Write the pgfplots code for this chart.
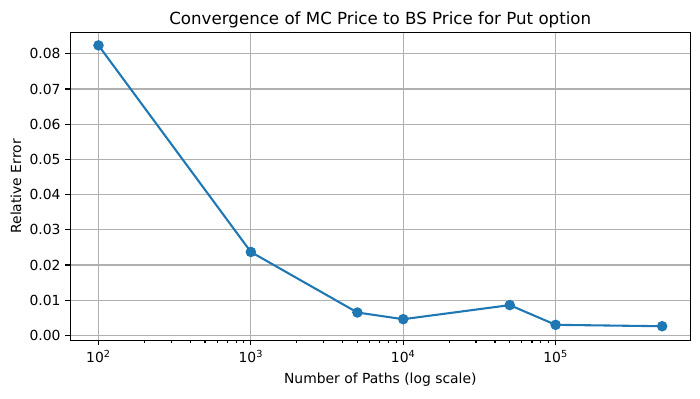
\documentclass[border=0pt]{standalone}
\usepackage{pgfplots}
\pgfplotsset{compat=1.18}
\usepackage{fontspec}
\setmainfont{DejaVu Sans}
\definecolor{mplblue}{HTML}{1F77B4}
\definecolor{gridgray}{HTML}{B0B0B0}
\begin{document}
\begin{tikzpicture}
\path[use as bounding box] (-50.6pt,-41.5pt) rectangle (453.4pt,245.1pt);
\begin{axis}[
  at={(0,0)}, anchor=south west,
  scale only axis,
  width=446.4pt, height=221.8pt,
  xmode=log,
  xmin=65.3, xmax=765000,
  ymin=-0.00143, ymax=0.0861,
  xtick={100,1000,10000,100000},
  xticklabels={10\textsuperscript{2},10\textsuperscript{3},10\textsuperscript{4},10\textsuperscript{5}},
  ytick={0,0.01,0.02,0.03,0.04,0.05,0.06,0.07,0.08},
  yticklabel style={/pgf/number format/.cd, fixed, fixed zerofill, precision=2, assume math mode=true},
  scaled y ticks=false,
  tick label style={font=\fontsize{10}{12}\selectfont},
  grid=major,
  major grid style={draw=gridgray, line width=0.8pt},
  axis line style={line width=0.8pt},
  tick style={line width=0.8pt, black},
  tick align=outside,
  major tick length=3.5pt,
  minor tick length=2pt,
  xtick pos=bottom, ytick pos=left,
  title={Convergence of MC Price to BS Price for Put option},
  title style={font=\fontsize{12}{14}\selectfont, yshift=-6.5pt},
  xlabel={Number of Paths (log scale)},
  ylabel={Relative Error},
  label style={font=\fontsize{10}{12}\selectfont},
  xlabel style={yshift=-0.5pt},
  ylabel style={yshift=-1pt},
]
\addplot[color=mplblue, line width=1.5pt, mark=*, mark size=3pt, mark options={solid, fill=mplblue, draw=none}] coordinates {
(100,0.0824)
(1000,0.0237)
(5000,0.0065)
(10000,0.0046)
(50000,0.0086)
(100000,0.0030)
(500000,0.0026)
};
\end{axis}
\end{tikzpicture}
\end{document}
